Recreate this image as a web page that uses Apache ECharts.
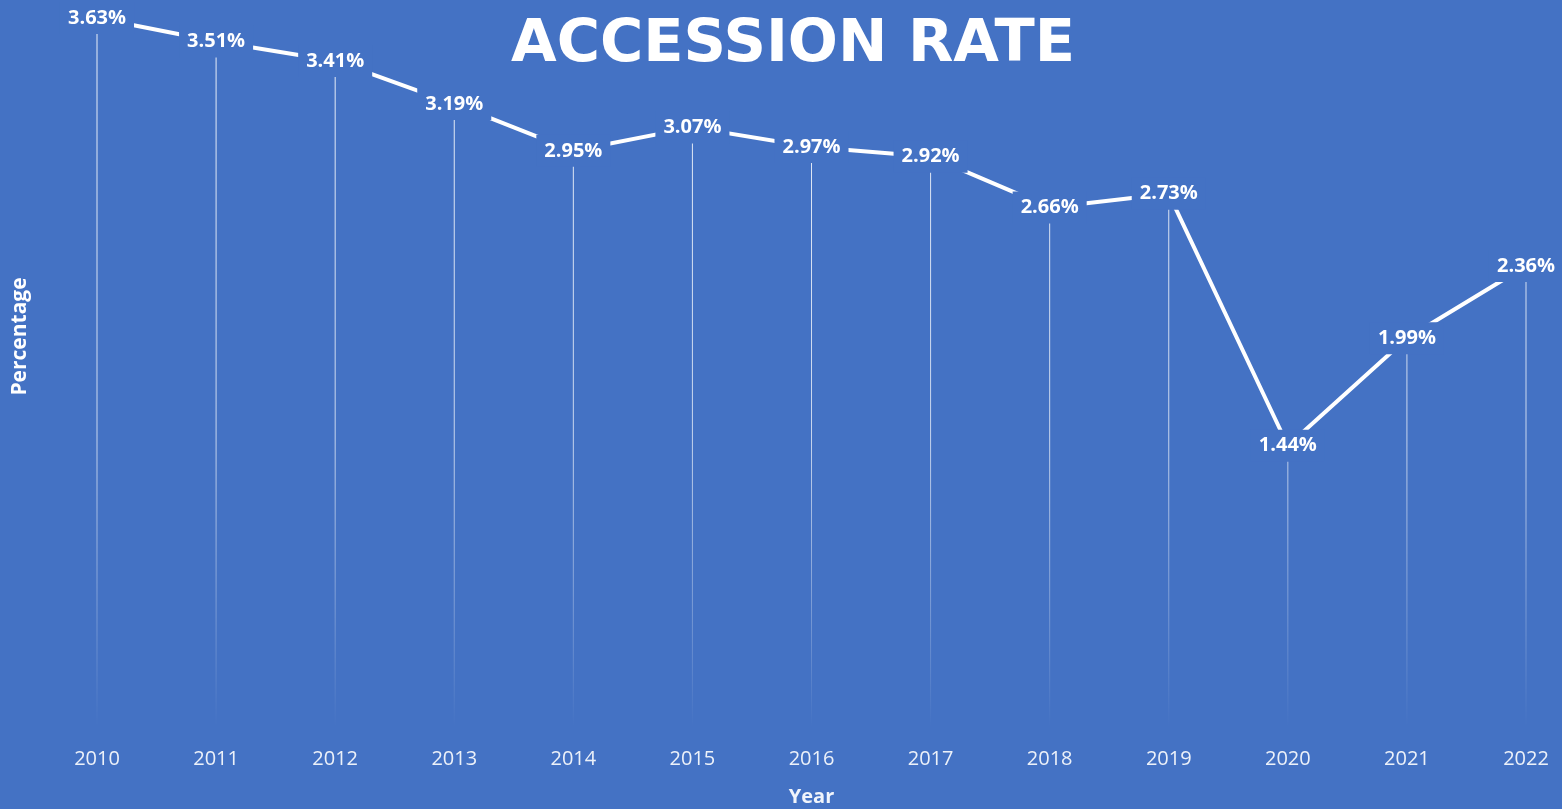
<!DOCTYPE html>
<html>
<head>
<meta charset="utf-8">
<script src="https://cdn.jsdelivr.net/npm/echarts@6/dist/echarts.min.js"></script>
<style>
html,body{margin:0;padding:0;background:#4472C4;}
#c{width:1562px;height:809px;}
</style>
</head>
<body>
<div id="c"></div>
<script>
const years = ['2010','2011','2012','2013','2014','2015','2016','2017','2018','2019','2020','2021','2022'];
const rates = [3.63, 3.51, 3.41, 3.19, 2.95, 3.07, 2.97, 2.92, 2.66, 2.73, 1.44, 1.99, 2.36];
const titleText = 'ACCESSION RATE';
const xTitle = 'Year';
const yTitle = 'Percentage';

const bg = '#4472C4';
const chart = echarts.init(document.getElementById('c'));
chart.setOption({
  backgroundColor: bg,
  animation: false,
  title: {
    text: titleText,
    left: 506,
    top: 11,
    textStyle: {color: '#ffffff', fontFamily: 'DejaVu Sans', fontWeight: 'bold', fontSize: 59}
  },
  grid: {left: 97, right: 36, top: 18, bottom: 82, outerBoundsMode: 'none', containLabel: false},
  xAxis: {
    type: 'category',
    data: years,
    boundaryGap: false,
    axisLine: {show: false},
    axisTick: {show: false},
    axisLabel: {color: 'rgba(255,255,255,0.9)', fontFamily: 'Open Sans', fontSize: 20, margin: 22},
    name: xTitle,
    nameLocation: 'middle',
    nameGap: 60,
    nameTextStyle: {color: 'rgba(255,255,255,0.92)', fontFamily: 'Open Sans', fontWeight: 'bold', fontSize: 20}
  },
  yAxis: {
    type: 'value',
    min: 0,
    max: 'dataMax',
    axisLine: {show: false},
    axisTick: {show: false},
    axisLabel: {show: false},
    splitLine: {show: false},
    name: yTitle,
    nameLocation: 'middle',
    nameGap: 66,
    nameRotate: 90,
    nameTextStyle: {color: '#ffffff', fontFamily: 'Open Sans', fontWeight: 'bold', fontSize: 21, padding: [0, 0, 0, 72]}
  },
  series: [
    {
      type: 'bar',
      data: rates,
      barWidth: 1,
      z: 1,
      silent: true,
      itemStyle: {
        color: new echarts.graphic.LinearGradient(0, 0, 0, 727, [
          {offset: 0, color: 'rgba(255,255,255,0.9)'},
          {offset: 0.6, color: 'rgba(255,255,255,0.7)'},
          {offset: 1, color: 'rgba(255,255,255,0)'}
        ], true)
      }
    },
    {
      type: 'line',
      data: rates,
      z: 3,
      symbol: 'circle',
      symbolSize: 1,
      itemStyle: {color: '#ffffff'},
      lineStyle: {color: '#ffffff', width: 4},
      label: {
        show: true,
        position: 'inside',
        formatter: p => p.value.toFixed(2) + '%',
        color: '#ffffff',
        fontFamily: 'Open Sans',
        fontWeight: 'bold',
        fontSize: 20,
        backgroundColor: bg,
        padding: [6, 8, 6, 8]
      }
    }
  ]
});
</script>
</body>
</html>
